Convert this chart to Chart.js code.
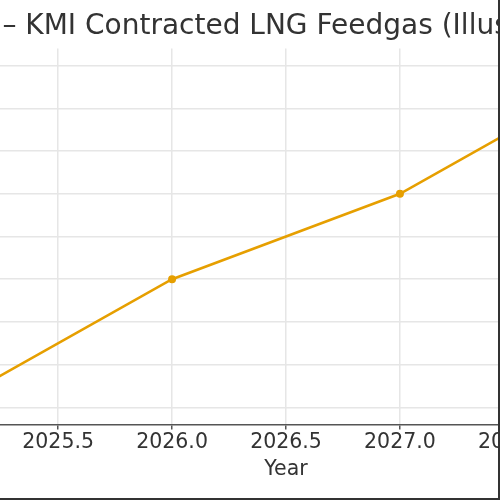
<!DOCTYPE html>
<html>
<head>
<meta charset="utf-8">
<script src="https://cdn.jsdelivr.net/npm/chart.js@4"></script>
<style>
  html,body{margin:0;padding:0;background:#fff;overflow:hidden;width:500px;height:500px;}
  /* chart is wider than the window, only the middle part shows */
  .wrap{position:absolute;left:-202px;top:0;width:904px;height:500px;}
  .frame{position:absolute;left:0;top:0;width:498px;height:498px;border-right:2px solid #333;border-bottom:2px solid #333;pointer-events:none;}
</style>
</head>
<body>
<div class="wrap"><canvas id="feedgasChart"></canvas></div>
<div class="frame"></div>
<script>
/* chart data */
const years = [2025, 2026, 2027, 2028];
const feedgas = [4.0, 5.5, 6.5, 8.0];   // Bcf/d, illustrative
const titleText = 'Gulf Coast \u2013 KMI Contracted LNG Feedgas (Illustrative)';
const xLabel = 'Year';
const yLabel = 'Bcf/d';

Chart.defaults.font.family = "'DejaVu Sans', sans-serif";
Chart.defaults.color = '#333';

const pts = years.map((y,i)=>({x:y, y:feedgas[i]}));

new Chart(document.getElementById('feedgasChart'), {
  type:'line',
  data:{ datasets:[{
    label:'Contracted feedgas',
    data:pts,
    borderColor:'#E69F00',
    backgroundColor:'#E69F00',
    borderWidth:2.5,
    pointRadius:4,
    pointBorderWidth:0,
    tension:0
  }]},
  options:{
    responsive:true,
    maintainAspectRatio:false,
    animation:false,
    layout:{padding:{left:0,right:40,top:0,bottom:0}},
    plugins:{
      legend:{display:false},
      tooltip:{enabled:false},
      title:{display:true,text:titleText,font:{size:28,weight:'normal'},color:'#333',padding:{top:10.2,bottom:4.7}}
    },
    scales:{
      x:{
        type:'linear', min:2024.85, max:2028.15,
        ticks:{stepSize:0.5, includeBounds:false, font:{size:20.5}, padding:1, maxRotation:0,
               callback:v=>v.toFixed(1)},
        grid:{color:'#e6e6e6', lineWidth:1.5, tickColor:'#555', tickLength:5},
        border:{display:true,color:'#555',width:1.5},
        title:{display:true,text:xLabel,font:{size:20.5},padding:{top:4,bottom:17.7}},
        afterFit:s=>{s.height = 75.5;}
      },
      y:{
        min:3.8, max:8.2,
        ticks:{stepSize:0.5, includeBounds:false, font:{size:20.5}, callback:v=>v.toFixed(1)},
        grid:{color:'#e6e6e6', lineWidth:1.5, drawTicks:false},
        border:{display:false},
        title:{display:true,text:yLabel,font:{size:20.5}},
        afterFit:s=>{s.width = 112;}
      }
    }
  }
});
</script>
</body>
</html>
